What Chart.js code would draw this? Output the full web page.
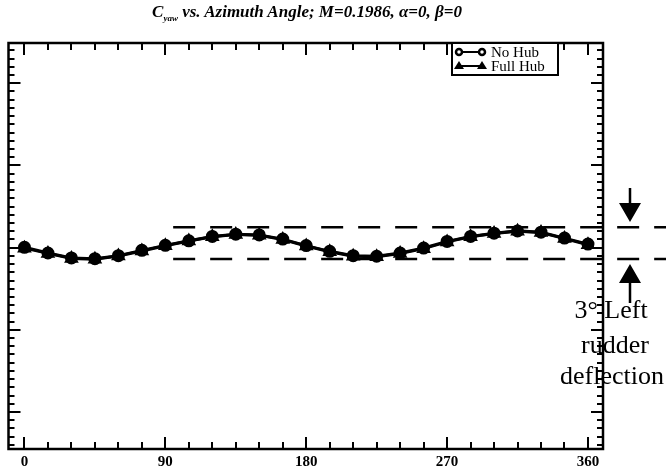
<!DOCTYPE html>
<html>
<head>
<meta charset="utf-8">
<script src="https://cdn.jsdelivr.net/npm/chart.js@4.4.0/dist/chart.umd.min.js"></script>
<style>
  html,body{margin:0;padding:0;background:#fff;}
  #wrap{position:relative;width:666px;height:475px;}
  #title{position:absolute;left:0;top:2px;width:614px;text-align:center;line-height:18px;
    font:italic bold 17px "Liberation Serif",serif;color:#000;}
  #title sub{font-size:9px;vertical-align:-4px;line-height:0;}
</style>
</head>
<body>
<div id="wrap">
  <canvas id="chart" width="666" height="475"></canvas>
  <div id="title">C<sub>yaw</sub> vs. Azimuth Angle; M=0.1986, α=0, β=0</div>
</div>
<script>
// C_yaw vs azimuth (y axis has no labels in the source)
const azimuth = [0,15,30,45,60,75,90,105,120,135,150,165,180,195,210,225,240,255,270,285,300,315,330,345,360];
const noHub   = [0.00004,-0.00065,-0.00125,-0.00134,-0.00098,-0.00033,0.00028,0.00083,0.00136,0.00164,0.00155,0.00104,0.00025,
                 -0.00045,-0.00098,-0.00105,-0.00065,-0.00005,0.00076,0.00136,0.00176,0.00204,0.00188,0.00116,0.00043];
const fullHub = [-0.00006,-0.00070,-0.00132,-0.00140,-0.00102,-0.00040,0.00022,0.00080,0.00132,0.00160,0.00152,0.00098,0.00020,
                 -0.00050,-0.00104,-0.00110,-0.00070,-0.00012,0.00070,0.00132,0.00172,0.00200,0.00184,0.00110,0.00036];
// 3 deg left rudder reference band (dashed)
const refX = [95,410];
const refUpper = 0.00248;
const refLower = -0.00137;

const xTicks = [0,15,30,45,60,75,90,105,120,135,150,165,180,195,210,225,240,255,270,285,300,315,330,345,360];
const xLabels = [0,90,180,270,360];
const legendNames = ["No Hub","Full Hub"];
const noteLines = ["3° Left","rudder","deflection"];

const pts = (xs,ys)=>xs.map((x,i)=>({x, y: ys[i]}));

const framePlugin = {
  id: 'frame',
  afterDraw(chart){
    const {ctx, chartArea:a, scales:{x, y}} = chart;
    ctx.save();
    ctx.strokeStyle = '#000';
    ctx.lineWidth = 2.5;
    ctx.strokeRect(a.left, a.top, a.right - a.left, a.bottom - a.top);
    // inward ticks, all four sides
    ctx.lineWidth = 2;
    ctx.beginPath();
    for(const v of xTicks){
      const px = Math.round(x.getPixelForValue(v));
      const len = v % 90 === 0 ? 12 : 7;
      ctx.moveTo(px, a.bottom); ctx.lineTo(px, a.bottom - len);
      ctx.moveTo(px, a.top); ctx.lineTo(px, a.top + len);
    }
    for(let i = -24; i <= 24; i++){
      const py = Math.round(y.getPixelForValue(i * 0.001));
      const len = i % 10 === 0 ? 12 : 6;
      ctx.moveTo(a.left, py); ctx.lineTo(a.left + len, py);
      ctx.moveTo(a.right, py); ctx.lineTo(a.right - len, py);
    }
    ctx.stroke();

    // legend box
    const bx = 452, by = 43, bw = 106, bh = 32;
    ctx.fillStyle = '#fff';
    ctx.fillRect(bx, by, bw, bh);
    ctx.lineWidth = 2;
    ctx.strokeRect(bx, by, bw, bh);
    ctx.font = '15px "Liberation Serif", serif';
    ctx.textBaseline = 'middle';
    ctx.fillStyle = '#000';
    legendNames.forEach((name, i)=>{
      const ly = by + 9 + i * 14;
      ctx.lineWidth = 2;
      ctx.beginPath(); ctx.moveTo(457, ly); ctx.lineTo(484, ly); ctx.stroke();
      ctx.lineWidth = 2.5;
      for(const sx of [459, 482]){
        ctx.beginPath();
        if(i === 0){ ctx.arc(sx, ly, 3, 0, Math.PI*2); ctx.fillStyle='#fff'; ctx.fill(); ctx.stroke(); }
        else { ctx.moveTo(sx, ly-5); ctx.lineTo(sx-5, ly+3); ctx.lineTo(sx+5, ly+3); ctx.closePath(); ctx.fillStyle='#000'; ctx.fill(); }
      }
      ctx.fillStyle = '#000';
      ctx.fillText(name, 491, ly + 1);
    });

    // rudder deflection note with arrows
    ctx.fillStyle = '#000';
    ctx.strokeStyle = '#000';
    ctx.lineWidth = 2.5;
    ctx.beginPath();
    ctx.moveTo(630, 188); ctx.lineTo(630, 206);
    ctx.moveTo(630, 281); ctx.lineTo(630, 303);
    ctx.stroke();
    ctx.beginPath();
    ctx.moveTo(619, 203); ctx.lineTo(641, 203); ctx.lineTo(630, 222); ctx.closePath();
    ctx.moveTo(630, 264); ctx.lineTo(619, 283); ctx.lineTo(641, 283); ctx.closePath();
    ctx.fill();
    ctx.font = '26px "Liberation Serif", serif';
    ctx.textAlign = 'center';
    ctx.textBaseline = 'alphabetic';
    ctx.fillText(noteLines[0], 611, 318);
    ctx.fillText(noteLines[1], 615, 353);
    ctx.fillText(noteLines[2], 612, 384);
    ctx.restore();
  }
};

const refStyle = {borderColor:'#000', borderWidth:2.5, borderDash:[22,15], pointRadius:0, fill:false, clip:false};

new Chart(document.getElementById('chart'), {
  type: 'line',
  data: {
    datasets: [
      {label: legendNames[0], data: pts(azimuth, noHub), borderColor:'#000', borderWidth:3,
       pointStyle:'circle', pointRadius:5, pointBackgroundColor:'#000', pointBorderColor:'#000', tension:0},
      {label: legendNames[1], data: pts(azimuth, fullHub), borderColor:'#000', borderWidth:3,
       pointStyle:'triangle', pointRadius:5.5, pointBackgroundColor:'#000', pointBorderColor:'#000', tension:0},
      {label:'upper', data: pts(refX, [refUpper, refUpper]), ...refStyle},
      {label:'lower', data: pts(refX, [refLower, refLower]), ...refStyle}
    ]
  },
  options: {
    responsive: false,
    animation: false,
    layout: {padding: {left: 8, right: 63, top: 43, bottom: 0}},
    plugins: {legend: {display: false}, tooltip: {enabled: false}, title: {display: false}},
    scales: {
      x: {
        type: 'linear', min: -10.2, max: 369.6,
        grid: {display: false, drawTicks: false},
        border: {display: false},
        afterBuildTicks: (s)=>{ s.ticks = xTicks.map(v=>({value: v})); },
        ticks: {
          autoSkip: false, maxRotation: 0, padding: 4, color: '#000',
          font: {family: '"Liberation Serif", serif', size: 15, weight: 'bold'},
          callback: (v)=> xLabels.includes(v) ? String(v) : ''
        }
      },
      y: {type: 'linear', min: -0.0245, max: 0.0249, display: false}
    }
  },
  plugins: [framePlugin]
});
</script>
</body>
</html>
